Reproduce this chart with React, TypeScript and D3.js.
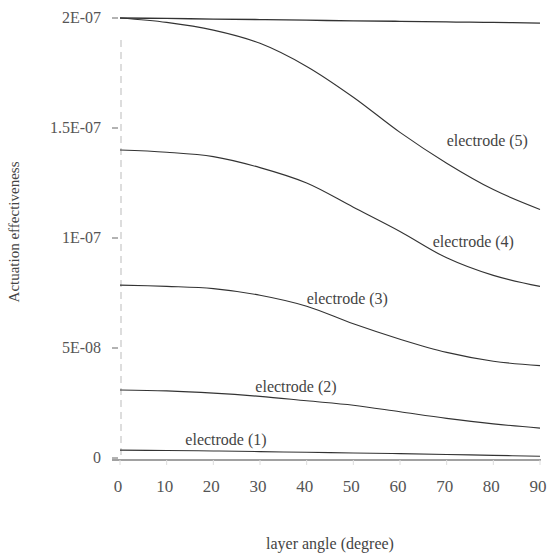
import React from "react";
import * as d3 from "d3";

const angles = [0, 10, 20, 30, 40, 50, 60, 70, 80, 90];
const upperLine = [2.0e-7, 1.998e-7, 1.995e-7, 1.993e-7, 1.99e-7, 1.987e-7, 1.985e-7, 1.982e-7, 1.98e-7, 1.977e-7];
const electrode5 = [2.0e-7, 1.98e-7, 1.945e-7, 1.885e-7, 1.78e-7, 1.64e-7, 1.48e-7, 1.34e-7, 1.22e-7, 1.13e-7];
const electrode4 = [1.4e-7, 1.39e-7, 1.37e-7, 1.32e-7, 1.25e-7, 1.14e-7, 1.03e-7, 0.91e-7, 0.83e-7, 0.78e-7];
const electrode3 = [7.86e-8, 7.8e-8, 7.7e-8, 7.4e-8, 6.9e-8, 6.1e-8, 5.4e-8, 4.8e-8, 4.4e-8, 4.2e-8];
const electrode2 = [3.09e-8, 3.05e-8, 2.95e-8, 2.8e-8, 2.6e-8, 2.4e-8, 2.1e-8, 1.8e-8, 1.55e-8, 1.36e-8];
const electrode1 = [3.6e-9, 3.4e-9, 3.2e-9, 2.9e-9, 2.6e-9, 2.3e-9, 2.0e-9, 1.6e-9, 1.2e-9, 0.8e-9];
const yTicks = [0, 5e-8, 1e-7, 1.5e-7, 2e-7];
const yTickLabels = ["0", "5E-08", "1E-07", "1.5E-07", "2E-07"];
const xTicks = [0, 10, 20, 30, 40, 50, 60, 70, 80, 90];
const seriesLabels = ["electrode (1)", "electrode (2)", "electrode (3)", "electrode (4)", "electrode (5)"];
const labelAnchors = [
  { angle: 14, value: 5.7e-9 },
  { angle: 29, value: 3.0e-8 },
  { angle: 40, value: 7.0e-8 },
  { angle: 67, value: 9.6e-8 },
  { angle: 70, value: 1.42e-7 },
];

export default function App() {
  const x = d3.scaleLinear().domain([0, 90]).range([120, 540]);
  const y = d3.scaleLinear().domain([0, 2e-7]).range([458, 18]);
  const line = d3
    .line<number>()
    .x((_, i) => x(angles[i]))
    .y((d) => y(d))
    .curve(d3.curveCatmullRom.alpha(0.5));
  const series = [electrode1, electrode2, electrode3, electrode4, electrode5];
  const font = "'Liberation Serif', 'DejaVu Serif', serif";
  return (
    <svg
      width={549}
      height={559}
      style={{ position: "absolute", left: 0, top: 0, background: "#fff" }}
      fontFamily={font}
    >
      <line x1={121} x2={121} y1={40} y2={458} stroke="#bbb" strokeWidth={1} strokeDasharray="7,5" />
      {yTicks.map((t, i) => (
        <g key={t}>
          <line x1={112} x2={118} y1={y(t)} y2={y(t)} stroke="#666" strokeWidth={1} />
          <text x={101} y={y(t) + 5} textAnchor="end" fontSize={16} fill="#555">
            {yTickLabels[i]}
          </text>
        </g>
      ))}
      <line x1={112} x2={541} y1={460} y2={460} stroke="#444" strokeWidth={1.2} />
      {xTicks.map((t) => (
        <g key={t}>
          <line x1={x(t)} x2={x(t)} y1={460} y2={465} stroke="#ddd" strokeWidth={1} />
          <text x={x(t) - 2} y={492} textAnchor="middle" fontSize={17} fill="#555">
            {t}
          </text>
        </g>
      ))}
      <path d={line(upperLine) || ""} fill="none" stroke="#333" strokeWidth={1.3} />
      {series.map((s, i) => (
        <path key={i} d={line(s) || ""} fill="none" stroke="#333" strokeWidth={1.1} />
      ))}
      {seriesLabels.map((l, i) => (
        <text
          key={l}
          x={x(labelAnchors[i].angle)}
          y={y(labelAnchors[i].value)}
          fontSize={16}
          fill="#444"
        >
          {l}
        </text>
      ))}
      <text x={330} y={549} textAnchor="middle" fontSize={16} fill="#444">
        layer angle (degree)
      </text>
      <text
        transform="translate(19,232) rotate(-90)"
        textAnchor="middle"
        fontSize={15}
        fill="#444"
      >
        Actuation effectiveness
      </text>
    </svg>
  );
}
